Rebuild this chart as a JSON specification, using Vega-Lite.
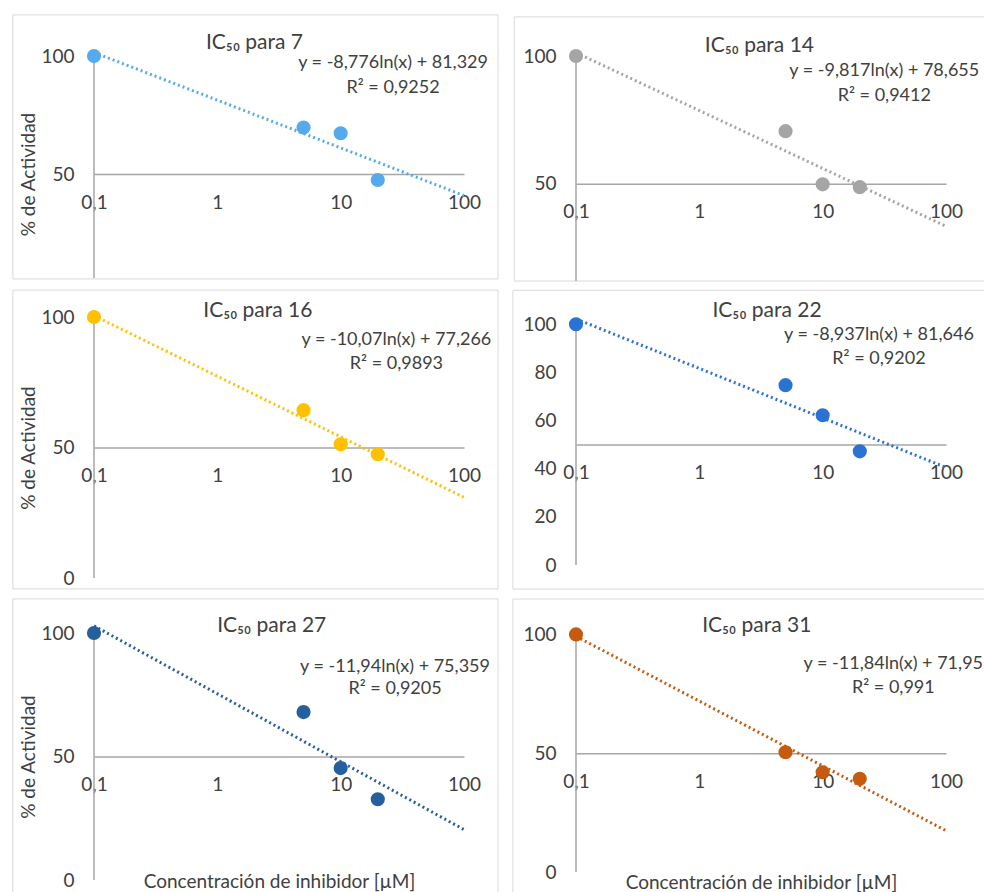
{
  "$schema": "https://vega.github.io/schema/vega-lite/v6.json",
  "background": "white",
  "padding": {"left": 12, "top": 14, "right": 0, "bottom": 0},
  "datasets": {
    "points": [
      {"compound": "7", "conc": 0.1, "act": 100}, {"compound": "7", "conc": 5, "act": 69.7}, {"compound": "7", "conc": 10, "act": 67.3}, {"compound": "7", "conc": 20, "act": 47.5},
      {"compound": "14", "conc": 0.1, "act": 100}, {"compound": "14", "conc": 5, "act": 70.6}, {"compound": "14", "conc": 10, "act": 49.8}, {"compound": "14", "conc": 20, "act": 48.7},
      {"compound": "16", "conc": 0.1, "act": 100}, {"compound": "16", "conc": 5, "act": 64.3}, {"compound": "16", "conc": 10, "act": 51.2}, {"compound": "16", "conc": 20, "act": 47.4},
      {"compound": "22", "conc": 0.1, "act": 100}, {"compound": "22", "conc": 5, "act": 74.7}, {"compound": "22", "conc": 10, "act": 62.2}, {"compound": "22", "conc": 20, "act": 47.2},
      {"compound": "27", "conc": 0.1, "act": 100}, {"compound": "27", "conc": 5, "act": 68}, {"compound": "27", "conc": 10, "act": 45.3}, {"compound": "27", "conc": 20, "act": 32.7},
      {"compound": "31", "conc": 0.1, "act": 100}, {"compound": "31", "conc": 5, "act": 50.4}, {"compound": "31", "conc": 10, "act": 42}, {"compound": "31", "conc": 20, "act": 39.2}
    ],
    "trend": [
      {"compound": "7", "conc": 0.1, "act": 101.5}, {"compound": "7", "conc": 100, "act": 40.9},
      {"compound": "14", "conc": 0.1, "act": 101.3}, {"compound": "14", "conc": 100, "act": 33.4},
      {"compound": "16", "conc": 0.1, "act": 100.5}, {"compound": "16", "conc": 100, "act": 30.9},
      {"compound": "22", "conc": 0.1, "act": 102.2}, {"compound": "22", "conc": 100, "act": 40.5},
      {"compound": "27", "conc": 0.1, "act": 102.9}, {"compound": "27", "conc": 100, "act": 20.4},
      {"compound": "31", "conc": 0.1, "act": 99.2}, {"compound": "31", "conc": 100, "act": 17.4}
    ],
    "labels": [
      {"compound": "7", "title": "IC₅₀ para 7", "eq": "y = -8,776ln(x) + 81,329", "r2": "R² = 0,9252"},
      {"compound": "14", "title": "IC₅₀ para 14", "eq": "y = -9,817ln(x) + 78,655", "r2": "R² = 0,9412"},
      {"compound": "16", "title": "IC₅₀ para 16", "eq": "y = -10,07ln(x) + 77,266", "r2": "R² = 0,9893"},
      {"compound": "22", "title": "IC₅₀ para 22", "eq": "y = -8,937ln(x) + 81,646", "r2": "R² = 0,9202"},
      {"compound": "27", "title": "IC₅₀ para 27", "eq": "y = -11,94ln(x) + 75,359", "r2": "R² = 0,9205"},
      {"compound": "31", "title": "IC₅₀ para 31", "eq": "y = -11,84ln(x) + 71,95", "r2": "R² = 0,991"}
    ]
  },
  "config": {
    "font": "Lato",
    "view": {"stroke": null},
    "axis": {
      "labelFont": "Lato", "labelFontSize": 19, "labelColor": "#404040",
      "ticks": false, "grid": false,
      "domainColor": "#a6a6a6", "domainWidth": 1.5,
      "titleFont": "Lato", "titleFontSize": 19, "titleFontWeight": "normal", "titleColor": "#404040"
    },
    "text": {"font": "Lato", "color": "#404040"}
  },
  "columns": 2,
  "bounds": "flush",
  "spacing": {"row": 36, "column": 112},
  "concat": [
    {
      "width": 370, "height": 222,
      "layer": [
        {"data": {"name": "trend"}, "transform": [{"filter": "datum.compound == '7'"}], "mark": {"type": "line", "color": "#55aaee", "strokeWidth": 3, "strokeDash": [2, 3]},
          "encoding": {
            "x": {"field": "conc", "type": "quantitative", "scale": {"type": "log", "domain": [0.1, 100]},
              "axis": {"values": [0.1, 1, 10, 100], "format": ".1~f", "labelExpr": "replace(datum.label, '.', ',')", "offset": -103.9, "labelPadding": 19, "labelFlush": false, "labelOverlap": false, "title": null}},
            "y": {"field": "act", "type": "quantitative", "scale": {"domain": [6, 100], "nice": false, "zero": false},
              "axis": {"values": [50, 100], "domain": false, "labelPadding": 20, "title": "% de Actividad", "titleX": -56, "titleY": 118}}
          }},
        {"data": {"values": [{}]}, "mark": {"type": "rect", "fill": null, "stroke": "#d9d9d9", "strokeWidth": 1},
          "encoding": {"x": {"datum": 0.022, "type": "quantitative"}, "x2": {"datum": 188.8}, "y": {"datum": 5.6, "type": "quantitative"}, "y2": {"datum": 117.4}}},
        {"data": {"values": [{}]}, "mark": {"type": "rule", "color": "#a6a6a6", "strokeWidth": 1.5},
          "encoding": {"x": {"datum": 0.1, "type": "quantitative"}, "y": {"datum": 6, "type": "quantitative"}, "y2": {"datum": 100}}},
        {"data": {"name": "points"}, "transform": [{"filter": "datum.compound == '7'"}], "mark": {"type": "circle", "color": "#55aaee", "size": 200, "opacity": 1},
          "encoding": {"x": {"field": "conc", "type": "quantitative"}, "y": {"field": "act", "type": "quantitative"}}},
        {"data": {"name": "labels"}, "transform": [{"filter": "datum.compound == '7'"}], "mark": {"type": "text", "fontSize": 21, "align": "center", "baseline": "alphabetic"},
          "encoding": {"x": {"datum": 2.0, "type": "quantitative"}, "y": {"datum": 103, "type": "quantitative"}, "text": {"field": "title"}}},
        {"data": {"name": "labels"}, "transform": [{"filter": "datum.compound == '7'"}], "mark": {"type": "text", "fontSize": 18, "align": "center", "baseline": "alphabetic"},
          "encoding": {"x": {"datum": 26.6, "type": "quantitative"}, "y": {"datum": 95.1, "type": "quantitative"}, "text": {"field": "eq"}}},
        {"data": {"name": "labels"}, "transform": [{"filter": "datum.compound == '7'"}], "mark": {"type": "text", "fontSize": 18, "align": "center", "baseline": "alphabetic"},
          "encoding": {"x": {"datum": 26.6, "type": "quantitative"}, "y": {"datum": 84.5, "type": "quantitative"}, "text": {"field": "r2"}}}
      ]
    },
    {
      "width": 370, "height": 225,
      "layer": [
        {"data": {"name": "trend"}, "transform": [{"filter": "datum.compound == '14'"}], "mark": {"type": "line", "color": "#a5a5a5", "strokeWidth": 3, "strokeDash": [2, 3]},
          "encoding": {
            "x": {"field": "conc", "type": "quantitative", "scale": {"type": "log", "domain": [0.1, 100]},
              "axis": {"values": [0.1, 1, 10, 100], "format": ".1~f", "labelExpr": "replace(datum.label, '.', ',')", "offset": -97.2, "labelPadding": 19, "labelFlush": false, "labelOverlap": false, "title": null}},
            "y": {"field": "act", "type": "quantitative", "scale": {"domain": [12, 100], "nice": false, "zero": false},
              "axis": {"values": [50, 100], "domain": false, "labelPadding": 20, "title": null}}
          }},
        {"data": {"values": [{}]}, "mark": {"type": "rect", "fill": null, "stroke": "#d9d9d9", "strokeWidth": 1},
          "encoding": {"x": {"datum": 0.0316, "type": "quantitative"}, "x2": {"datum": 1000}, "y": {"datum": 12, "type": "quantitative"}, "y2": {"datum": 115.3}}},
        {"data": {"values": [{}]}, "mark": {"type": "rule", "color": "#a6a6a6", "strokeWidth": 1.5},
          "encoding": {"x": {"datum": 0.1, "type": "quantitative"}, "y": {"datum": 12, "type": "quantitative"}, "y2": {"datum": 100}}},
        {"data": {"name": "points"}, "transform": [{"filter": "datum.compound == '14'"}], "mark": {"type": "circle", "color": "#a5a5a5", "size": 200, "opacity": 1},
          "encoding": {"x": {"field": "conc", "type": "quantitative"}, "y": {"field": "act", "type": "quantitative"}}},
        {"data": {"name": "labels"}, "transform": [{"filter": "datum.compound == '14'"}], "mark": {"type": "text", "fontSize": 21, "align": "center", "baseline": "alphabetic"},
          "encoding": {"x": {"datum": 3.07, "type": "quantitative"}, "y": {"datum": 101.5, "type": "quantitative"}, "text": {"field": "title"}}},
        {"data": {"name": "labels"}, "transform": [{"filter": "datum.compound == '14'"}], "mark": {"type": "text", "fontSize": 18, "align": "center", "baseline": "alphabetic"},
          "encoding": {"x": {"datum": 31.6, "type": "quantitative"}, "y": {"datum": 92.0, "type": "quantitative"}, "text": {"field": "eq"}}},
        {"data": {"name": "labels"}, "transform": [{"filter": "datum.compound == '14'"}], "mark": {"type": "text", "fontSize": 18, "align": "center", "baseline": "alphabetic"},
          "encoding": {"x": {"datum": 31.6, "type": "quantitative"}, "y": {"datum": 82.3, "type": "quantitative"}, "text": {"field": "r2"}}}
      ]
    },
    {
      "width": 370, "height": 261,
      "layer": [
        {"data": {"name": "trend"}, "transform": [{"filter": "datum.compound == '16'"}], "mark": {"type": "line", "color": "#ffc000", "strokeWidth": 3, "strokeDash": [2, 3]},
          "encoding": {
            "x": {"field": "conc", "type": "quantitative", "scale": {"type": "log", "domain": [0.1, 100]},
              "axis": {"values": [0.1, 1, 10, 100], "format": ".1~f", "labelExpr": "replace(datum.label, '.', ',')", "offset": -130.5, "labelPadding": 19, "labelFlush": false, "labelOverlap": false, "title": null}},
            "y": {"field": "act", "type": "quantitative", "scale": {"domain": [0, 100], "nice": false},
              "axis": {"values": [0, 50, 100], "domain": false, "labelPadding": 20, "title": "% de Actividad", "titleX": -56, "titleY": 130.5}}
          }},
        {"data": {"values": [{}]}, "mark": {"type": "rect", "fill": null, "stroke": "#d9d9d9", "strokeWidth": 1},
          "encoding": {"x": {"datum": 0.022, "type": "quantitative"}, "x2": {"datum": 188.8}, "y": {"datum": -4.2, "type": "quantitative"}, "y2": {"datum": 110.3}}},
        {"data": {"values": [{}]}, "mark": {"type": "rule", "color": "#a6a6a6", "strokeWidth": 1.5},
          "encoding": {"x": {"datum": 0.1, "type": "quantitative"}, "y": {"datum": 0, "type": "quantitative"}, "y2": {"datum": 100}}},
        {"data": {"name": "points"}, "transform": [{"filter": "datum.compound == '16'"}], "mark": {"type": "circle", "color": "#ffc000", "size": 200, "opacity": 1},
          "encoding": {"x": {"field": "conc", "type": "quantitative"}, "y": {"field": "act", "type": "quantitative"}}},
        {"data": {"name": "labels"}, "transform": [{"filter": "datum.compound == '16'"}], "mark": {"type": "text", "fontSize": 21, "align": "center", "baseline": "alphabetic"},
          "encoding": {"x": {"datum": 2.13, "type": "quantitative"}, "y": {"datum": 100, "type": "quantitative"}, "text": {"field": "title"}}},
        {"data": {"name": "labels"}, "transform": [{"filter": "datum.compound == '16'"}], "mark": {"type": "text", "fontSize": 18, "align": "center", "baseline": "alphabetic"},
          "encoding": {"x": {"datum": 28.3, "type": "quantitative"}, "y": {"datum": 89.2, "type": "quantitative"}, "text": {"field": "eq"}}},
        {"data": {"name": "labels"}, "transform": [{"filter": "datum.compound == '16'"}], "mark": {"type": "text", "fontSize": 18, "align": "center", "baseline": "alphabetic"},
          "encoding": {"x": {"datum": 28.3, "type": "quantitative"}, "y": {"datum": 80, "type": "quantitative"}, "text": {"field": "r2"}}}
      ]
    },
    {
      "width": 370, "height": 248,
      "layer": [
        {"data": {"name": "trend"}, "transform": [{"filter": "datum.compound == '22'"}], "mark": {"type": "line", "color": "#2a73d3", "strokeWidth": 3, "strokeDash": [2, 3]},
          "encoding": {
            "x": {"field": "conc", "type": "quantitative", "scale": {"type": "log", "domain": [0.1, 100]},
              "axis": {"values": [0.1, 1, 10, 100], "format": ".1~f", "labelExpr": "replace(datum.label, '.', ',')", "offset": -120.4, "labelPadding": 19, "labelFlush": false, "labelOverlap": false, "title": null}},
            "y": {"field": "act", "type": "quantitative", "scale": {"domain": [0, 103], "nice": false},
              "axis": {"values": [0, 20, 40, 60, 80, 100], "domain": false, "labelPadding": 20, "title": null}}
          }},
        {"data": {"values": [{}]}, "mark": {"type": "rect", "fill": null, "stroke": "#d9d9d9", "strokeWidth": 1},
          "encoding": {"x": {"datum": 0.0308, "type": "quantitative"}, "x2": {"datum": 1000}, "y": {"datum": -10, "type": "quantitative"}, "y2": {"datum": 114.1}}},
        {"data": {"values": [{}]}, "mark": {"type": "rule", "color": "#a6a6a6", "strokeWidth": 1.5},
          "encoding": {"x": {"datum": 0.1, "type": "quantitative"}, "y": {"datum": 0, "type": "quantitative"}, "y2": {"datum": 100}}},
        {"data": {"name": "points"}, "transform": [{"filter": "datum.compound == '22'"}], "mark": {"type": "circle", "color": "#2a73d3", "size": 200, "opacity": 1},
          "encoding": {"x": {"field": "conc", "type": "quantitative"}, "y": {"field": "act", "type": "quantitative"}}},
        {"data": {"name": "labels"}, "transform": [{"filter": "datum.compound == '22'"}], "mark": {"type": "text", "fontSize": 21, "align": "center", "baseline": "alphabetic"},
          "encoding": {"x": {"datum": 3.54, "type": "quantitative"}, "y": {"datum": 102.8, "type": "quantitative"}, "text": {"field": "title"}}},
        {"data": {"name": "labels"}, "transform": [{"filter": "datum.compound == '22'"}], "mark": {"type": "text", "fontSize": 18, "align": "center", "baseline": "alphabetic"},
          "encoding": {"x": {"datum": 28.6, "type": "quantitative"}, "y": {"datum": 93.4, "type": "quantitative"}, "text": {"field": "eq"}}},
        {"data": {"name": "labels"}, "transform": [{"filter": "datum.compound == '22'"}], "mark": {"type": "text", "fontSize": 18, "align": "center", "baseline": "alphabetic"},
          "encoding": {"x": {"datum": 28.6, "type": "quantitative"}, "y": {"datum": 83.4, "type": "quantitative"}, "text": {"field": "r2"}}}
      ]
    },
    {
      "width": 370, "height": 266,
      "layer": [
        {"data": {"name": "trend"}, "transform": [{"filter": "datum.compound == '27'"}], "mark": {"type": "line", "color": "#245f9e", "strokeWidth": 3, "strokeDash": [2, 3]},
          "encoding": {
            "x": {"field": "conc", "type": "quantitative", "scale": {"type": "log", "domain": [0.1, 100]},
              "axis": {"values": [0.1, 1, 10, 100], "format": ".1~f", "labelExpr": "replace(datum.label, '.', ',')", "offset": -123.5, "labelPadding": 19, "labelFlush": false, "labelOverlap": false, "title": "Concentración de inhibidor [µM]", "titleY": 131, "titleBaseline": "alphabetic"}},
            "y": {"field": "act", "type": "quantitative", "scale": {"domain": [0, 107.7], "nice": false},
              "axis": {"values": [0, 50, 100], "domain": false, "labelPadding": 20, "title": "% de Actividad", "titleX": -56, "titleY": 142.5}}
          }},
        {"data": {"values": [{}]}, "mark": {"type": "rect", "fill": null, "stroke": "#d9d9d9", "strokeWidth": 1},
          "encoding": {"x": {"datum": 0.022, "type": "quantitative"}, "x2": {"datum": 188.8}, "y": {"datum": -10, "type": "quantitative"}, "y2": {"datum": 113.8}}},
        {"data": {"values": [{}]}, "mark": {"type": "rule", "color": "#a6a6a6", "strokeWidth": 1.5},
          "encoding": {"x": {"datum": 0.1, "type": "quantitative"}, "y": {"datum": 0, "type": "quantitative"}, "y2": {"datum": 100}}},
        {"data": {"name": "points"}, "transform": [{"filter": "datum.compound == '27'"}], "mark": {"type": "circle", "color": "#245f9e", "size": 200, "opacity": 1},
          "encoding": {"x": {"field": "conc", "type": "quantitative"}, "y": {"field": "act", "type": "quantitative"}}},
        {"data": {"name": "labels"}, "transform": [{"filter": "datum.compound == '27'"}], "mark": {"type": "text", "fontSize": 21, "align": "center", "baseline": "alphabetic"},
          "encoding": {"x": {"datum": 2.76, "type": "quantitative"}, "y": {"datum": 100.4, "type": "quantitative"}, "text": {"field": "title"}}},
        {"data": {"name": "labels"}, "transform": [{"filter": "datum.compound == '27'"}], "mark": {"type": "text", "fontSize": 18, "align": "center", "baseline": "alphabetic"},
          "encoding": {"x": {"datum": 27.6, "type": "quantitative"}, "y": {"datum": 84.2, "type": "quantitative"}, "text": {"field": "eq"}}},
        {"data": {"name": "labels"}, "transform": [{"filter": "datum.compound == '27'"}], "mark": {"type": "text", "fontSize": 18, "align": "center", "baseline": "alphabetic"},
          "encoding": {"x": {"datum": 27.6, "type": "quantitative"}, "y": {"datum": 75.2, "type": "quantitative"}, "text": {"field": "r2"}}}
      ]
    },
    {
      "width": 370, "height": 258,
      "layer": [
        {"data": {"name": "trend"}, "transform": [{"filter": "datum.compound == '31'"}], "mark": {"type": "line", "color": "#c55a11", "strokeWidth": 3, "strokeDash": [2, 3]},
          "encoding": {
            "x": {"field": "conc", "type": "quantitative", "scale": {"type": "log", "domain": [0.1, 100]},
              "axis": {"values": [0.1, 1, 10, 100], "format": ".1~f", "labelExpr": "replace(datum.label, '.', ',')", "offset": -118.8, "labelPadding": 19, "labelFlush": false, "labelOverlap": false, "title": "Concentración de inhibidor [µM]", "titleY": 135.6, "titleBaseline": "alphabetic"}},
            "y": {"field": "act", "type": "quantitative", "scale": {"domain": [0, 108.6], "nice": false},
              "axis": {"values": [0, 50, 100], "domain": false, "labelPadding": 20, "title": null}}
          }},
        {"data": {"values": [{}]}, "mark": {"type": "rect", "fill": null, "stroke": "#d9d9d9", "strokeWidth": 1},
          "encoding": {"x": {"datum": 0.0308, "type": "quantitative"}, "x2": {"datum": 1000}, "y": {"datum": -12.7, "type": "quantitative"}, "y2": {"datum": 114.9}}},
        {"data": {"values": [{}]}, "mark": {"type": "rule", "color": "#a6a6a6", "strokeWidth": 1.5},
          "encoding": {"x": {"datum": 0.1, "type": "quantitative"}, "y": {"datum": 0, "type": "quantitative"}, "y2": {"datum": 100}}},
        {"data": {"name": "points"}, "transform": [{"filter": "datum.compound == '31'"}], "mark": {"type": "circle", "color": "#c55a11", "size": 200, "opacity": 1},
          "encoding": {"x": {"field": "conc", "type": "quantitative"}, "y": {"field": "act", "type": "quantitative"}}},
        {"data": {"name": "labels"}, "transform": [{"filter": "datum.compound == '31'"}], "mark": {"type": "text", "fontSize": 21, "align": "center", "baseline": "alphabetic"},
          "encoding": {"x": {"datum": 2.92, "type": "quantitative"}, "y": {"datum": 101, "type": "quantitative"}, "text": {"field": "title"}}},
        {"data": {"name": "labels"}, "transform": [{"filter": "datum.compound == '31'"}], "mark": {"type": "text", "fontSize": 18, "align": "center", "baseline": "alphabetic"},
          "encoding": {"x": {"datum": 37.4, "type": "quantitative"}, "y": {"datum": 85.6, "type": "quantitative"}, "text": {"field": "eq"}}},
        {"data": {"name": "labels"}, "transform": [{"filter": "datum.compound == '31'"}], "mark": {"type": "text", "fontSize": 18, "align": "center", "baseline": "alphabetic"},
          "encoding": {"x": {"datum": 37.4, "type": "quantitative"}, "y": {"datum": 75.4, "type": "quantitative"}, "text": {"field": "r2"}}}
      ]
    }
  ]
}
